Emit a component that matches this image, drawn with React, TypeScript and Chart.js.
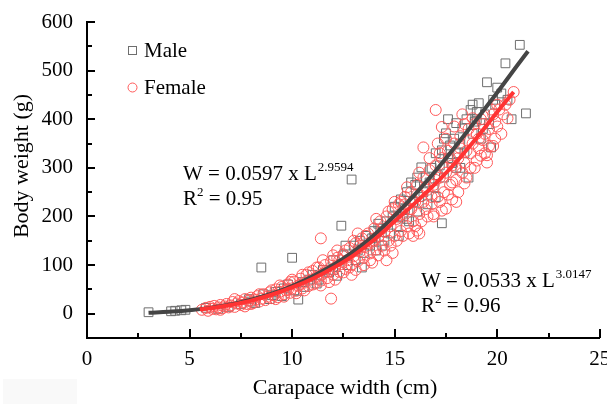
import React, { useEffect, useRef } from "react";
import { Chart, registerables } from "chart.js";

Chart.register(...registerables);

const maleX = [3.0, 4.1, 4.3, 4.6, 4.8, 6.9, 7.5, 8.0, 8.5, 8.6, 8.9, 9.2, 9.5, 9.8, 10.0, 10.1, 10.3, 10.5, 10.8, 11.0, 11.2, 11.5, 11.8, 12.0, 12.2, 12.4, 12.5, 12.7, 12.9, 13.0, 13.1, 13.3, 13.5, 13.6, 13.8, 14.0, 14.1, 14.3, 14.5, 14.6, 14.8, 15.0, 15.1, 15.3, 15.4, 15.6, 15.7, 15.9, 16.0, 16.1, 16.3, 16.4, 16.5, 16.6, 16.8, 16.9, 17.0, 17.1, 17.3, 17.3, 17.4, 17.5, 17.6, 17.7, 17.8, 18.0, 18.0, 18.2, 18.3, 18.4, 18.6, 18.7, 18.8, 19.0, 19.1, 19.2, 19.4, 19.5, 19.6, 19.7, 19.9, 20.2, 20.4, 20.5, 20.7, 21.1, 21.4,
  12.0, 12.6, 13.2, 13.4, 13.9, 14.2, 14.4, 14.9, 15.2, 15.5, 15.8, 16.2, 16.7, 17.0, 17.2, 17.6, 17.9, 18.1, 18.5, 18.9, 19.3, 19.8, 20.0, 10.6, 11.3, 9.0, 9.6, 7.9, 8.2, 5.8, 6.4, 16.1, 15.6, 18.8, 19.0, 18.2, 17.4];
const maleY = [3, 5, 6, 7, 8, 14, 20, 25, 95, 40, 30, 45, 36, 60, 115, 48, 29, 65, 70, 80, 62, 90, 85, 110, 78, 181, 120, 100, 276, 140, 110, 150, 125, 160, 140, 170, 130, 175, 150, 190, 165, 220, 180, 235, 200, 250, 190, 230, 265, 210, 301, 250, 280, 225, 300, 260, 330, 285, 336, 186, 360, 371, 400, 346, 310, 392, 300, 350, 381, 330, 280, 419, 370, 400, 433, 360, 410, 476, 390, 342, 430, 453, 515, 440, 400, 553, 412,
  90, 140, 130, 95, 155, 185, 140, 200, 160, 215, 270, 240, 270, 240, 305, 320, 360, 330, 400, 395, 380, 440, 465, 55, 70, 38, 52, 30, 22, 12, 10, 280, 195, 430, 415, 300, 280];

const femaleX = [5.6, 5.8, 5.9, 6.0, 6.1, 6.2, 6.3, 6.4, 6.5, 6.6, 6.7, 6.8, 6.9, 7.0, 7.1, 7.2, 7.3, 7.4, 7.5, 7.6, 7.7, 7.8, 7.9, 8.0, 8.1, 8.2, 8.3, 8.4, 8.5, 8.6, 8.7, 8.8, 8.9, 9.0, 9.1, 9.2, 9.3, 9.4, 9.5, 9.6, 9.7, 9.8, 9.9, 10.0, 10.1, 10.2, 10.3, 10.4, 10.5, 10.6, 10.7, 10.8, 10.9, 11.0, 11.1, 11.2, 11.4, 11.3, 11.4, 11.5, 11.6, 11.7, 11.8, 11.9, 11.9, 12.0, 12.1, 12.2, 12.3, 12.4, 12.5, 12.6, 12.7, 12.8, 12.9, 13.0, 13.1, 13.2, 13.3, 13.4, 13.5, 13.6, 13.7, 13.8, 13.9, 14.0, 14.1, 14.2, 14.3, 14.4, 14.5, 14.6, 14.7, 14.8, 14.9, 15.0, 15.1, 15.2, 15.3, 15.4, 15.5, 15.6, 15.7, 15.8, 15.9, 16.0, 16.1, 16.1, 16.2, 16.3, 16.4, 16.4, 16.5, 16.6, 16.7, 16.8, 16.9, 17.0, 17.0, 17.1, 17.2, 17.3, 17.3, 17.4, 17.5, 17.5, 17.6, 17.7, 17.8, 17.9, 18.0, 18.1, 18.2, 18.3, 18.4, 18.5, 18.6, 18.7, 18.8, 18.8, 18.9, 19.0, 19.1, 19.2, 19.3, 19.4, 19.5, 19.5, 19.6, 19.7, 19.8, 19.9, 20.0, 20.2, 20.3, 20.5, 20.6, 20.8, 16.2, 17.3,
  9.0, 9.2, 9.4, 9.6, 9.8, 10.0, 10.2, 10.4, 10.6, 10.8, 11.0, 11.2, 11.4, 11.6, 11.8, 12.0, 12.1, 12.3, 12.5, 12.6, 12.8, 13.0, 13.1, 13.3, 13.5, 13.6, 13.8, 14.0, 14.1, 14.2, 14.4, 14.5, 14.7, 14.8, 15.0, 15.1, 15.2, 15.4, 15.5, 15.6, 15.7, 15.8, 16.0, 16.1, 16.2, 16.3, 16.5, 16.6, 16.7, 16.8, 16.9, 17.0, 17.1, 17.2, 17.4, 17.5, 17.6, 17.7, 17.8, 17.9, 18.0, 18.1, 18.2, 18.3, 18.4, 18.5, 18.6, 18.7, 18.9, 19.0, 19.1, 19.2, 19.3, 19.4, 19.6, 19.8, 20.0, 20.1, 20.4, 19.9, 18.0, 17.8, 16.9, 15.9, 14.9, 13.9, 12.9, 14.6, 15.3, 16.4, 17.2, 18.4, 13.2, 12.2, 11.5, 10.5, 9.9, 8.4, 8.0, 7.2, 6.5, 7.7];
const femaleY = [8, 12, 6, 14, 10, 16, 9, 13, 18, 11, 15, 20, 13, 17, 24, 14, 21, 26, 18, 23, 30, 20, 27, 33, 22, 29, 36, 25, 31, 40, 28, 35, 44, 32, 38, 50, 34, 45, 55, 40, 48, 60, 43, 52, 66, 47, 58, 72, 52, 64, 80, 57, 70, 88, 62, 76, 155, 95, 68, 82, 100, 73, 88, 31, 108, 80, 95, 115, 86, 102, 122, 92, 110, 135, 100, 118, 145, 108, 128, 155, 115, 138, 165, 124, 148, 175, 132, 158, 190, 140, 168, 200, 150, 180, 215, 160, 195, 225, 170, 205, 240, 180, 215, 250, 190, 230, 171, 265, 205, 242, 342, 280, 215, 255, 295, 225, 265, 419, 305, 240, 280, 384, 320, 250, 216, 290, 335, 265, 305, 350, 275, 320, 365, 290, 268, 335, 380, 300, 402, 350, 390, 315, 360, 400, 357, 330, 326, 311, 380, 420, 345, 395, 430, 370, 410, 402, 440, 456, 165, 212,
  48, 30, 58, 35, 50, 70, 42, 60, 48, 85, 60, 95, 58, 85, 65, 120, 70, 110, 85, 130, 95, 150, 90, 140, 100, 160, 110, 150, 195, 120, 175, 130, 210, 140, 230, 150, 200, 160, 225, 260, 165, 215, 180, 245, 290, 190, 260, 200, 320, 240, 205, 275, 350, 230, 300, 360, 245, 320, 270, 385, 300, 250, 340, 410, 310, 280, 355, 330, 300, 370, 340, 325, 390, 370, 345, 410, 385, 420, 430, 360, 230, 235, 200, 160, 125, 105, 80, 110, 230, 230, 330, 390, 165, 130, 110, 80, 65, 40, 20, 30, 8, 15];

const maleCurveX = [3, 4, 5, 6, 7, 8, 9, 10, 11, 12, 13, 14, 15, 16, 17, 18, 19, 20, 21, 21.5];
const maleCurveY = [2, 4, 7, 12, 19, 29, 41, 57, 77, 100, 128, 162, 202, 246, 294, 346, 400, 455, 512, 540];
const femaleCurveX = [5.5, 6, 7, 8, 9, 10, 11, 12, 13, 14, 15, 16, 17, 18, 19, 20, 20.8];
const femaleCurveY = [9, 11, 18, 27, 39, 54, 72, 94, 120, 152, 190, 228, 268, 312, 362, 415, 456];

const xTicks = [0, 5, 10, 15, 20, 25];
const yTicks = [0, 100, 200, 300, 400, 500, 600];

const seriesNames = ["Male", "Female"];
const eqMale = { main: "W = 0.0597 x L", exp: "2.9594", r2: "0.95" };
const eqFemale = { main: "W = 0.0533 x L", exp: "3.0147", r2: "0.96" };
const xTitle = "Carapace width (cm)";
const yTitle = "Body weight (g)";

const FONT = "'Liberation Serif', 'Times New Roman', serif";
const GRAY_PT = "#6e6e6e";
const RED_PT = "#ff5a5a";
const GRAY_LINE = "#454545";
const RED_LINE = "#ff3333";

const pts = (xs: number[], ys: number[]) => xs.map((x, i) => ({ x, y: ys[i] }));

const decor = {
  id: "decor",
  beforeDraw(chart: any) {
    const ctx = chart.ctx;
    ctx.save();
    ctx.fillStyle = "#ffffff";
    ctx.fillRect(0, 0, chart.width, chart.height);
    ctx.fillStyle = "#f9f9f9";
    ctx.fillRect(3, 379, 74, 25);
    ctx.restore();
  },
  afterDraw(chart: any) {
    const ctx = chart.ctx;
    const xs = chart.scales.x;
    const ys = chart.scales.y;
    const left = chart.chartArea.left;
    const bottom = chart.chartArea.bottom;
    ctx.save();
    ctx.strokeStyle = "#000";
    ctx.lineWidth = 2;
    ctx.beginPath();
    for (let v = 0; v <= 600; v += 50) {
      const y = Math.round(ys.getPixelForValue(v));
      const len = v % 100 === 0 ? 8 : 5;
      ctx.moveTo(left, y);
      ctx.lineTo(left + len, y);
    }
    for (let v = 2.5; v <= 25; v += 2.5) {
      const x = Math.round(xs.getPixelForValue(v));
      const len = v % 5 === 0 ? 9 : 5;
      ctx.moveTo(x, bottom);
      ctx.lineTo(x, bottom - len);
    }
    ctx.stroke();

    // legend
    ctx.lineWidth = 1;
    ctx.strokeStyle = GRAY_PT;
    ctx.strokeRect(128.5, 46.5, 8, 8);
    ctx.strokeStyle = RED_PT;
    ctx.beginPath();
    ctx.arc(132.5, 87.5, 4.5, 0, Math.PI * 2);
    ctx.stroke();
    ctx.fillStyle = "#000";
    ctx.font = `21px ${FONT}`;
    ctx.textAlign = "left";
    ctx.textBaseline = "alphabetic";
    ctx.fillText(seriesNames[0], 144, 57);
    ctx.fillText(seriesNames[1], 144, 94);

    const drawEq = (eq: any, x: number, y1: number, y2: number) => {
      ctx.font = `21px ${FONT}`;
      ctx.fillText(eq.main, x, y1);
      const w = ctx.measureText(eq.main).width;
      ctx.font = `13px ${FONT}`;
      ctx.fillText(eq.exp, x + w + 1, y1 - 9);
      ctx.font = `21px ${FONT}`;
      ctx.fillText("R", x, y2);
      const wr = ctx.measureText("R").width;
      ctx.font = `13px ${FONT}`;
      ctx.fillText("2", x + wr, y2 - 9);
      const w2 = ctx.measureText("2").width;
      ctx.font = `21px ${FONT}`;
      ctx.fillText(" = " + eq.r2, x + wr + w2, y2);
    };
    drawEq(eqMale, 183, 180, 205);
    drawEq(eqFemale, 421, 287, 312);

    // axis titles
    ctx.font = `22px ${FONT}`;
    ctx.textAlign = "center";
    ctx.textBaseline = "middle";
    ctx.fillText(xTitle, 345, 388);
    ctx.translate(22, 166);
    ctx.rotate(-Math.PI / 2);
    ctx.fillText(yTitle, 0, 0);
    ctx.restore();
  },
};

export default function App() {
  const ref = useRef<HTMLCanvasElement>(null);
  useEffect(() => {
    if (!ref.current) return;
    const chart = new Chart(ref.current, {
      type: "scatter",
      data: {
        datasets: [
          {
            label: "Female fit",
            data: pts(femaleCurveX, femaleCurveY),
            showLine: true,
            borderColor: RED_LINE,
            borderWidth: 4,
            pointRadius: 0,
            tension: 0.4,
            fill: false,
          },
          {
            label: "Male fit",
            data: pts(maleCurveX, maleCurveY),
            showLine: true,
            borderColor: GRAY_LINE,
            borderWidth: 4,
            pointRadius: 0,
            tension: 0.4,
            fill: false,
          },
          {
            label: seriesNames[1],
            data: pts(femaleX, femaleY),
            pointStyle: "circle",
            pointRadius: 5.5,
            borderColor: RED_PT,
            backgroundColor: "rgba(0,0,0,0)",
            borderWidth: 1,
          },
          {
            label: seriesNames[0],
            data: pts(maleX, maleY),
            pointStyle: "rect",
            pointRadius: 6.2,
            borderColor: GRAY_PT,
            backgroundColor: "rgba(0,0,0,0)",
            borderWidth: 1,
          },
        ],
      },
      options: {
        animation: false,
        responsive: false,
        layout: { padding: { top: 22, right: 5, left: 0, bottom: 0 } },
        plugins: { legend: { display: false }, tooltip: { enabled: false } },
        scales: {
          x: {
            type: "linear",
            min: 0,
            max: 25,
            afterBuildTicks: (s: any) => {
              s.ticks = xTicks.map((v) => ({ value: v }));
            },
            afterFit: (s: any) => {
              s.height = 66;
              s.paddingLeft = 0;
              s.paddingRight = 0;
            },
            grid: { display: false, drawTicks: false },
            border: { display: true, color: "#000", width: 2 },
            ticks: { padding: 9, color: "#000", font: { family: FONT, size: 21 }, maxRotation: 0 },
          },
          y: {
            type: "linear",
            min: -50,
            max: 600,
            afterBuildTicks: (s: any) => {
              s.ticks = yTicks.map((v) => ({ value: v }));
            },
            afterFit: (s: any) => {
              s.width = 87;
              s.paddingTop = 0;
              s.paddingBottom = 0;
            },
            grid: { display: false, drawTicks: false },
            border: { display: true, color: "#000", width: 2 },
            ticks: { padding: 14, color: "#000", font: { family: FONT, size: 21 } },
          },
        },
      },
      plugins: [decor],
    });
    return () => chart.destroy();
  }, []);
  return (
    <div style={{ position: "absolute", left: 0, top: 0, width: 607, height: 404 }}>
      <canvas ref={ref} width={607} height={404} />
    </div>
  );
}
